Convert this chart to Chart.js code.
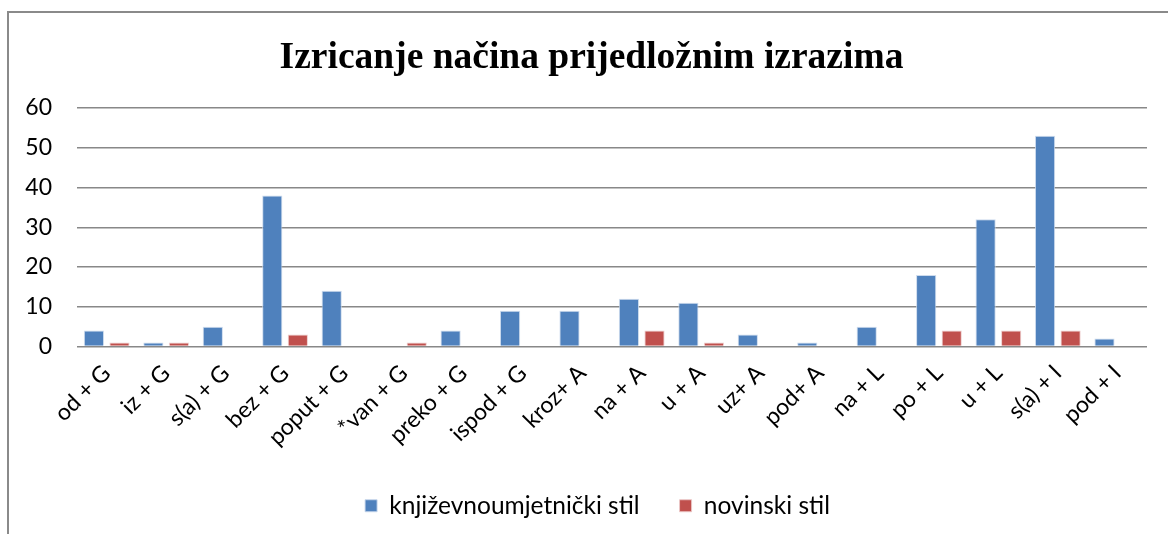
<!DOCTYPE html>
<html>
<head>
<meta charset="utf-8">
<script src="https://cdn.jsdelivr.net/npm/chart.js@4/dist/chart.umd.min.js"></script>
<style>
  body { margin: 0; background: #fff; }
</style>
</head>
<body>
<canvas id="prijedlozi" width="1168" height="534"></canvas>
<script>
// podaci
const kategorije = ['od + G', 'iz + G', 's(a) + G', 'bez + G', 'poput + G', '*van + G', 'preko + G', 'ispod + G', 'kroz+ A',
    'na + A', 'u + A', 'uz+ A', 'pod+ A', 'na + L', 'po + L', 'u + L', 's(a) + I', 'pod + I'];
const knjizevni = [4, 1, 5, 38, 14, 0, 4, 9, 9, 12, 11, 3, 1, 5, 18, 32, 53, 2];
const novinski = [1, 1, 0, 3, 0, 1, 0, 0, 0, 4, 1, 0, 0, 0, 4, 4, 4, 0];
const yTicks = [0, 10, 20, 30, 40, 50, 60];

// okvir grafikona (gornja i lijeva crta)
const okvir = {
    id: 'okvir',
    afterLayout(chart) {
        // naslov i legenda su u originalu malo desno od sredine
        chart.titleBlock.left += 28;
        chart.legend.left += 40;
    },
    beforeDraw(chart) {
        const ctx = chart.ctx;
        ctx.save();
        ctx.strokeStyle = '#8a8a8a';
        ctx.lineWidth = 2;
        ctx.beginPath();
        ctx.moveTo(8, 534);
        ctx.lineTo(8, 12);
        ctx.lineTo(1168, 12);
        ctx.stroke();
        ctx.restore();
    }
};

var ctx = document.getElementById('prijedlozi').getContext('2d');
var graf = new Chart(ctx, {
    type: 'bar',
    plugins: [okvir],
    data: {
        labels: kategorije,
        datasets: [{
            label: 'književnoumjetnički stil',
            data: knjizevni,
            backgroundColor: '#4f81bd',
            borderColor: 'rgba(200,215,235,0.9)',
            borderWidth: 1,
            categoryPercentage: 0.86,
            barPercentage: 0.79
        },
        {
            label: 'novinski stil',
            data: novinski,
            backgroundColor: '#c0504d',
            borderColor: 'rgba(235,200,200,0.9)',
            borderWidth: 1,
            categoryPercentage: 0.86,
            barPercentage: 0.79
        }]
    },
    options: {
        responsive: false,
        animation: false,
        layout: {
            padding: { left: 8, right: 21, top: 12, bottom: 6 }
        },
        plugins: {
            title: {
                display: true,
                text: 'Izricanje načina prijedložnim izrazima',
                color: '#000',
                font: { family: 'Liberation Serif', size: 37.5, weight: 'bold' },
                padding: { top: 24, bottom: 27 }
            },
            legend: {
                position: 'bottom',
                labels: {
                    color: '#000',
                    boxWidth: 12,
                    boxHeight: 12,
                    padding: 40,
                    font: { family: 'Lato', size: 24.5 }
                }
            },
            tooltip: { enabled: false }
        },
        scales: {
            x: {
                grid: { display: false },
                border: { display: false },
                ticks: {
                    color: '#000',
                    maxRotation: 45,
                    minRotation: 45,
                    padding: 5,
                    font: { family: 'Lato', size: 23 }
                },
                afterFit(scale) { scale.height = 107; }
            },
            y: {
                min: 0,
                max: 60,
                afterBuildTicks(scale) { scale.ticks = yTicks.map(v => ({ value: v })); },
                grid: { color: '#888', lineWidth: 1.5, drawTicks: false },
                border: { display: false },
                ticks: {
                    color: '#000',
                    padding: 25,
                    font: { family: 'Lato', size: 23 }
                },
                afterFit(scale) { scale.width = 69; }
            }
        }
    }
});
</script>
</body>
</html>
